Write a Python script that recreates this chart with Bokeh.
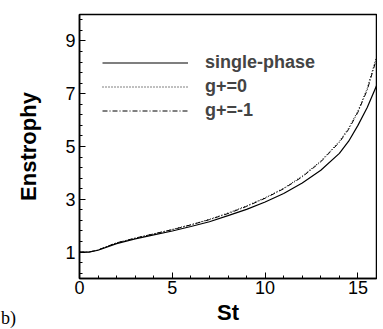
from bokeh.plotting import figure
from bokeh.models import Range1d, FixedTicker, Legend, LegendItem, Div
from bokeh.layouts import column
from bokeh.embed import file_html
from bokeh.resources import INLINE

st = [0, 0.5, 1, 1.5, 2, 3, 4, 5, 6, 7, 8, 9, 10, 11, 12, 13, 14, 14.5, 15, 15.5, 16]
single_phase = [1.0, 1.0, 1.07, 1.2, 1.32, 1.5, 1.65, 1.8, 1.97, 2.15, 2.38, 2.62, 2.9, 3.22, 3.62, 4.1, 4.74, 5.2, 5.8, 6.48, 7.3]
g_plus_0 = [1.0, 1.0, 1.08, 1.22, 1.35, 1.53, 1.69, 1.86, 2.04, 2.24, 2.48, 2.75, 3.06, 3.42, 3.88, 4.45, 5.2, 5.7, 6.35, 7.2, 8.4]
g_plus_m1 = [1.0, 1.0, 1.08, 1.22, 1.35, 1.53, 1.69, 1.85, 2.03, 2.23, 2.46, 2.73, 3.04, 3.4, 3.85, 4.42, 5.16, 5.65, 6.3, 7.14, 8.32]

x_major = [0, 5, 10, 15]
x_minor = list(range(0, 17))
y_major = [1, 3, 5, 7, 9]
y_minor = [0.2, 0.6, 1.0, 1.4, 1.8, 2.2, 2.6, 3.0, 3.4, 3.8, 4.2, 4.6, 5.0, 5.4, 5.8, 6.2, 6.6, 7.0, 7.4, 7.8, 8.2, 8.6, 9.0, 9.4, 9.8]

p = figure(width=377, height=329, output_backend="svg", toolbar_location=None,
           x_range=Range1d(0, 16), y_range=Range1d(0, 10),
           min_border_left=79, min_border_right=1, min_border_top=14, min_border_bottom=51)
p.xgrid.visible = False
p.ygrid.visible = False
p.outline_line_color = "black"
p.outline_line_width = 1.5
p.outline_line_alpha = 1.0

r1 = p.line(st, single_phase, line_color="black", line_width=1.2)
r2 = p.line(st, g_plus_0, line_color="black", line_width=1, line_dash="1 2")
r3 = p.line(st, g_plus_m1, line_color="black", line_width=1, line_dash="5 2 1 2")

for ax in (p.xaxis[0], p.yaxis[0]):
    ax.axis_line_width = 1.5
    ax.major_tick_in = 6
    ax.major_tick_out = 0
    ax.minor_tick_in = 3
    ax.minor_tick_out = 0
    ax.major_label_text_font = "Liberation Sans"
    ax.major_label_text_font_size = "18px"
    ax.major_label_text_color = "black"
    ax.axis_label_text_font = "Liberation Sans"
    ax.axis_label_text_font_size = "22px"
    ax.axis_label_text_font_style = "bold"
    ax.axis_label_text_color = "black"

p.xaxis[0].ticker = FixedTicker(ticks=x_major, minor_ticks=x_minor)
p.yaxis[0].ticker = FixedTicker(ticks=y_major, minor_ticks=y_minor)
p.xaxis[0].axis_label = "St"
p.yaxis[0].axis_label = "Enstrophy"
p.xaxis[0].major_label_standoff = 2
p.yaxis[0].major_label_standoff = 4
p.xaxis[0].axis_label_standoff = 3
p.yaxis[0].axis_label_standoff = 21

legend = Legend(items=[LegendItem(label="single-phase", renderers=[r1]),
                       LegendItem(label="g+=0", renderers=[r2]),
                       LegendItem(label="g+=-1", renderers=[r3])],
                location=(23, 156), glyph_width=86, glyph_height=23, label_height=23,
                label_standoff=17, spacing=1, padding=0, margin=0,
                border_line_color=None, background_fill_alpha=0,
                label_text_font="Liberation Sans", label_text_font_size="18px",
                label_text_font_style="bold")
p.add_layout(legend)

tag = Div(text="b)", width=30, height=21, margin=(-21, 0, 0, 1),
          styles={"font-family": "Liberation Serif", "font-size": "18px",
                  "color": "black", "line-height": "21px"})

layout = column(p, tag, spacing=0)

open("out.html", "w").write(file_html(layout, INLINE))
